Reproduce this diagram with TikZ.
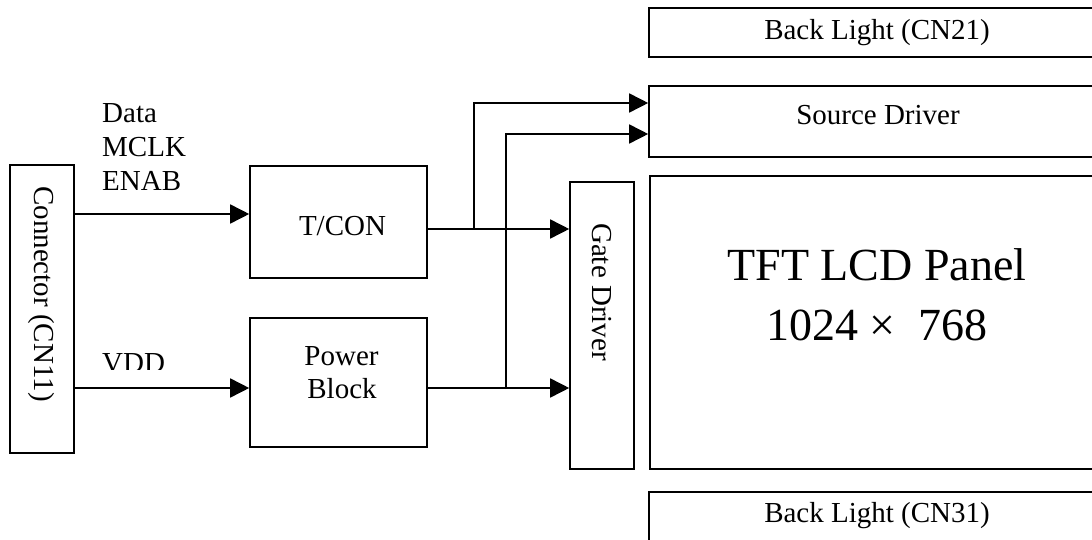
\documentclass[tikz,border=0pt]{standalone}
\usepackage{fontspec}
\setmainfont{Liberation Serif}
\usetikzlibrary{arrows.meta}
\begin{document}
\begin{tikzpicture}[x=1pt,y=-1pt,
  box/.style={draw, line width=1.6pt, inner sep=0pt, fill=white},
  wire/.style={line width=1.6pt},
  tip/.style={-{Triangle[length=19pt,width=19pt]}},
  txt/.style={font=\fontsize{29}{34}\selectfont, inner sep=0pt, anchor=base},
  bigtxt/.style={font=\fontsize{46}{55}\selectfont, inner sep=0pt, anchor=base}]
\useasboundingbox (0,0) rectangle (1092,540);
\clip (0,0) rectangle (1092,540);
\fill[white] (0,0) rectangle (1092,540);
% boxes
\node[box, minimum width=64pt, minimum height=288pt] (conn) at (42,309) {};
\node[box, minimum width=177pt, minimum height=112pt] (tcon) at (338.5,222) {};
\node[box, minimum width=177pt, minimum height=129pt] (power) at (338.5,382.5) {};
\node[box, minimum width=64pt, minimum height=287pt] (gate) at (602,325.5) {};
\node[box, minimum width=455pt, minimum height=293pt] (panel) at (877.5,322.5) {};
\node[box, minimum width=456pt, minimum height=71pt] (source) at (877,121.5) {};
\node[box, minimum width=456pt, minimum height=49pt] (bl1) at (877,32.5) {};
\node[box, minimum width=456pt, minimum height=68pt] (bl2) at (877,526) {};
% texts
\node[txt, rotate=-90, anchor=center] (conntxt) at (41,294) {Connector (CN11)};
\node[txt] (ttcon) at (342.5,235) {T/CON};
\node[txt] (tpow1) at (341.5,365) {Power};
\node[txt] (tpow2) at (342,398) {Block};
\node[txt, rotate=-90, anchor=center] (gatetxt) at (602,292) {Gate Driver};
\node[bigtxt] (tft1) at (877,280) {TFT LCD Panel};
\node[bigtxt] (tft2) at (877,340) {1024 ×\ \ 768};
\node[txt] (tsrc) at (878,125) {Source Driver};
\node[txt] (tbl1) at (877,40) {Back Light (CN21)};
\node[txt] (tbl2) at (877,522) {Back Light (CN31)};
\node[txt, anchor=base west] (tdata) at (102,123) {Data};
\node[txt, anchor=base west] (tmclk) at (102,157) {MCLK};
\node[txt, anchor=base west] (tenab) at (102,191) {ENAB};
\begin{scope}
\clip (90,330) rectangle (200,369.5);
\node[txt, anchor=base west] (tvdd) at (102,372) {VDD};
\end{scope}
% connectors
\draw[wire,tip] (conn.east |- 0,214) -- (tcon.west |- 0,214);
\draw[wire,tip] (conn.east |- 0,388) -- (power.west |- 0,388);
\draw[wire,tip] (tcon.east |- 0,229) -- (gate.west |- 0,229);
\draw[wire,tip] (power.east |- 0,388) -- (gate.west |- 0,388);
\coordinate (j1) at (474,229);
\coordinate (j2) at (506,389);
\draw[wire,tip] (j1) |- (source.west |- 0,103);
\draw[wire,tip] (j2) |- (source.west |- 0,134);
\end{tikzpicture}
\end{document}
